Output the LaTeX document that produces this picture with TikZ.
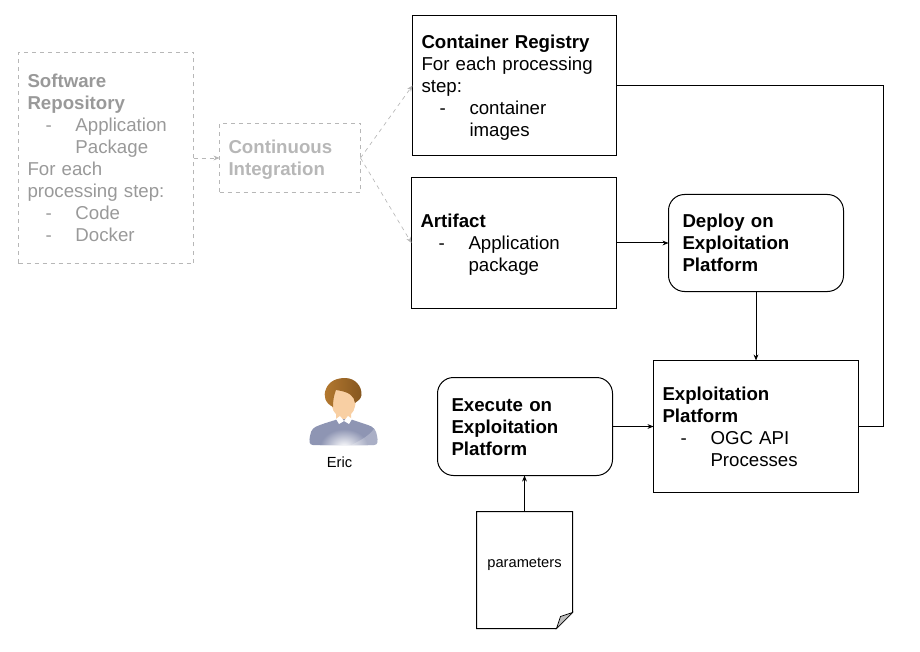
\documentclass[tikz,border=0pt]{standalone}
\usepackage{fontspec}
\setmainfont{Liberation Sans}
\usepackage{tikz}
\usetikzlibrary{arrows.meta,positioning,calc}

\definecolor{repotext}{HTML}{999999}
\definecolor{citext}{HTML}{B7B7B7}
\definecolor{paleline}{HTML}{B7B7B7}
\definecolor{shirt}{HTML}{8E95B3}
\definecolor{hairdark}{HTML}{85561F}
\definecolor{hairlight}{HTML}{B57A30}
\definecolor{skin}{HTML}{F8CFA3}

\newcommand{\dashitem}[1]{\hspace*{13.5pt}\makebox[22.5pt][l]{-}#1}
\newcommand{\dashmore}[1]{\hspace*{36pt}#1}

\tikzset{
  basebox/.style={rectangle, draw, line width=0.75pt, align=left, inner xsep=6.75pt, inner ysep=0pt, outer sep=0pt,
    font=\fontsize{14}{16.5}\selectfont, execute at begin node=\rule{0pt}{15.35pt}, execute at end node=\strut},
  softbox/.style={basebox, rounded corners=12pt},
  palebox/.style={basebox, draw=paleline, dashed, line width=0.5pt},
  link/.style={-{Stealth[length=4.5pt,width=3.6pt]}, line width=0.75pt},
  palelink/.style={-{Stealth[length=4.5pt,width=3.6pt]}, draw=paleline, dashed, line width=0.5pt},
  small/.style={font=\fontsize{11}{13}\selectfont}
}

\begin{document}
\begin{tikzpicture}[x=0.75pt,y=-0.75pt]
    \useasboundingbox (0,0) rectangle (920,652);

    \node[palebox, text=repotext, text width=117.75pt, minimum height=158.25pt] (repository) at (106,158)
      {\textbf{Software}\\\textbf{Repository}\\\dashitem{Application}\\\dashmore{Package}\\For each\\processing step:\\\dashitem{Code}\\\dashitem{Docker}};
    \node[palebox, text=citext, text width=92.25pt, minimum height=51.75pt, right=19.5pt of repository] (integration)
      {\textbf{Continuous}\\\textbf{Integration}};

    \node[basebox, text width=139.5pt, minimum height=105pt] (registry) at (514.5,85.5)
      {\textbf{Container Registry}\\For each processing\\step:\\\dashitem{container}\\\dashmore{images}};
    \node[basebox, text width=140.25pt, minimum height=98.25pt, below=16.5pt of registry, xshift=-0.375pt] (artifact)
      {\textbf{Artifact}\\\dashitem{Application}\\\dashmore{package}};
    \node[softbox, text width=110.25pt, inner xsep=10.5pt, minimum height=72.75pt, right=39pt of artifact] (deploy)
      {\textbf{Deploy on}\\\textbf{Exploitation}\\\textbf{Platform}};
    \node[basebox, text width=140.25pt, minimum height=99pt, below=51.75pt of deploy] (platform)
      {\textbf{Exploitation}\\\textbf{Platform}\\\dashitem{OGC API}\\\dashmore{Processes}};
    \node[softbox, text width=110.25pt, inner xsep=10.5pt, minimum height=73.5pt, left=30.75pt of platform] (execute)
      {\textbf{Execute on}\\\textbf{Exploitation}\\\textbf{Platform}};
    \node[rectangle, small, outer sep=0pt, text depth=10.5pt, minimum width=72pt, minimum height=87.75pt, below=27pt of execute, xshift=-0.375pt] (parameters) {parameters};
    \node[small] (eric) at (339.5,462.5) {Eric};

    % folded sheet
    \draw[line width=0.75pt] (parameters.north west) -- (parameters.north east)
      -- ($(parameters.south east)+(0,-16)$) -- ($(parameters.south east)+(-16,0)$)
      -- (parameters.south west) -- cycle;
    \filldraw[fill=black!25, line width=0.5pt] ($(parameters.south east)+(-16,0)$)
      -- ($(parameters.south east)+(-12,-12)$) -- ($(parameters.south east)+(0,-16)$) -- cycle;

    % user icon
    \begin{scope}
      \clip (313,445) .. controls (309,445) and (309,441) .. (310,436)
        .. controls (311,429) and (314,427) .. (320,425)
        .. controls (328,422) and (333,421) .. (338,419) -- (350,419)
        .. controls (356,421) and (362,423) .. (368,425)
        .. controls (374,427) and (376,430) .. (377,436)
        .. controls (378,441) and (378,445) .. (374,445) -- cycle;
      \fill[shirt] (305,415) rectangle (382,447);
      \shade[inner color=white, outer color=shirt] (344,447) ellipse (24 and 18);
      \fill[white, opacity=0.25] (378,422) .. controls (372,436) and (360,440) .. (350,446) -- (380,446) -- cycle;
    \end{scope}
    \fill[skin] (343.5,402) .. controls (356,402) and (356,410) .. (351,414)
      -- (351,419) -- (336,419) -- (336,414) .. controls (331,410) and (331,402) .. (343.5,402) -- cycle;
    \fill[white] (336,419) -- (340,416) -- (344,421) -- (348,416) -- (352,419) -- (349,424) -- (344,421) -- (339,424) -- cycle;
    \fill[skin] (343.5,402) ellipse (12 and 15);
    \shade[left color=hairlight, right color=hairdark] (333,407) .. controls (325,403) and (323,396) .. (326,389)
      .. controls (329,381) and (337,378) .. (345,378)
      .. controls (355,378) and (362,386) .. (361.5,395)
      .. controls (361,399) and (358,401) .. (355,403)
      .. controls (354,396) and (350,392) .. (336,390)
      .. controls (334,395) and (333,400) .. (333,407) -- cycle;

    \draw[palelink] (repository) -- (integration);
    \draw[palelink] (integration.east) -- (registry.west);
    \draw[palelink] (integration.east) -- (artifact.west);

    \draw[line width=0.75pt] (registry.east) -- ++(267,0) |- (platform.east);
    \draw[link] (artifact) -- (deploy);
    \draw[link] (deploy) -- (platform);
    \draw[link] (execute) -- (platform);
    \draw[link] (parameters.north) -- (parameters.north |- execute.south);
\end{tikzpicture}
\end{document}
